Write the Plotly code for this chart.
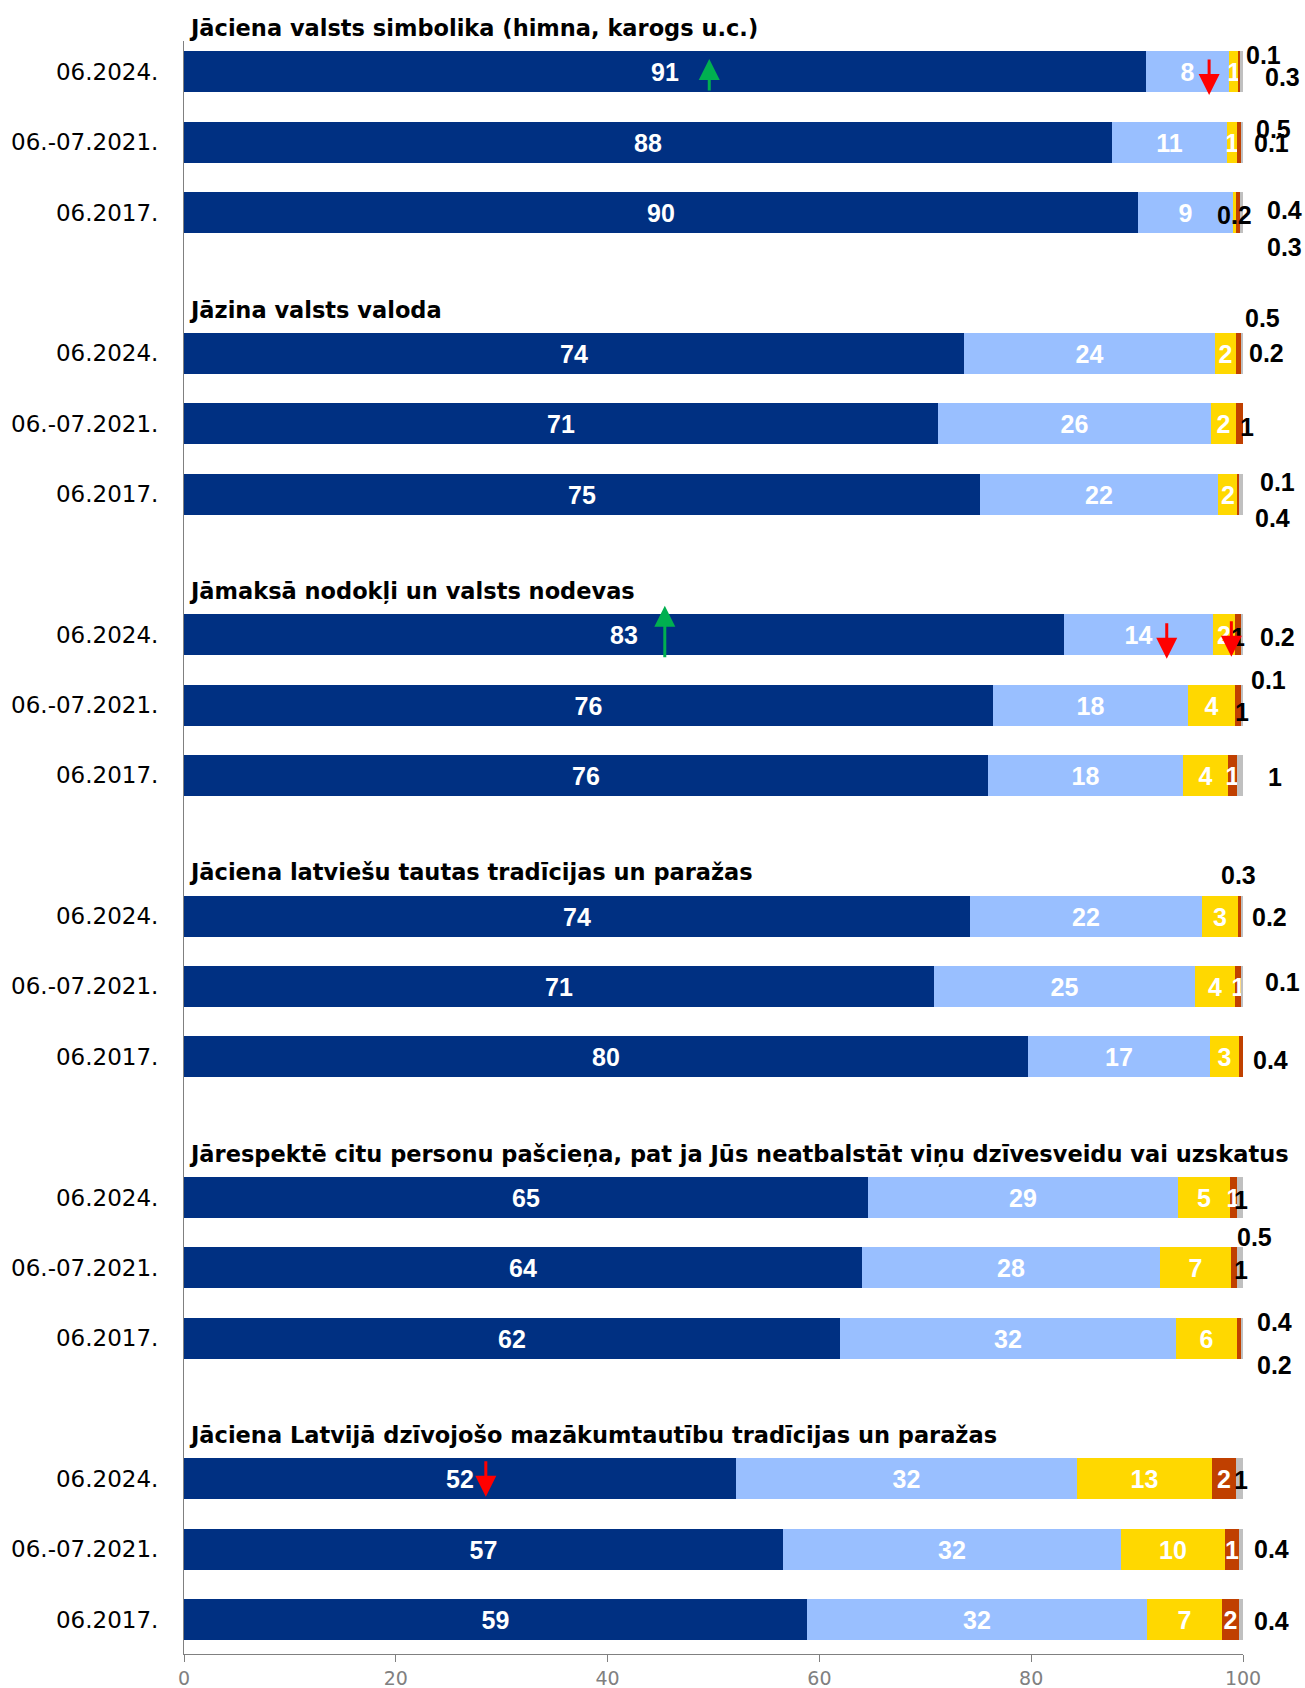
import plotly.graph_objects as go

# ---------------- data ----------------
periods = ["06.2024.", "06.-07.2021.", "06.2017."]
questions = [
    "Jāciena valsts simbolika (himna, karogs u.c.)",
    "Jāzina valsts valoda",
    "Jāmaksā nodokļi un valsts nodevas",
    "Jāciena latviešu tautas tradīcijas un paražas",
    "Jārespektē citu personu pašcieņa, pat ja Jūs neatbalstāt viņu dzīvesveidu vai uzskatus",
    "Jāciena Latvijā dzīvojošo mazākumtautību tradīcijas un paražas",
]
# one row per question, one value per period (06.2024., 06.-07.2021., 06.2017.)
dark_blue = [[90.8, 87.6, 90.1], [73.7, 71.2, 75.2], [83.1, 76.4, 75.9],
             [74.2, 70.8, 79.7], [64.6, 64.0, 61.9], [52.1, 56.6, 58.8]]
light_blue = [[7.9, 10.9, 9.0], [23.7, 25.8, 22.4], [14.1, 18.4, 18.4],
              [21.9, 24.7, 17.2], [29.3, 28.2, 31.8], [32.2, 31.9, 32.1]]
yellow = [[0.9, 0.9, 0.2], [1.9, 2.3, 1.9], [2.0, 4.4, 4.3],
          [3.4, 3.7, 2.7], [4.9, 6.7, 5.7], [12.8, 9.8, 7.1]]
orange = [[0.1, 0.5, 0.4], [0.5, 0.7, 0.1], [0.6, 0.7, 0.8],
          [0.3, 0.7, 0.4], [0.6, 0.5, 0.4], [2.2, 1.3, 1.6]]
gray = [[0.3, 0.1, 0.3], [0.2, 0.0, 0.4], [0.2, 0.1, 0.6],
        [0.2, 0.1, 0.0], [0.6, 0.6, 0.2], [0.7, 0.4, 0.4]]
x_ticks = [0, 20, 40, 60, 80, 100]

# significance arrows: (question, period, x value, direction)
change_arrows = [(0, 0, 49.6, "up"), (0, 0, 96.8, "down"),
                 (2, 0, 45.4, "up"), (2, 0, 92.8, "down"), (2, 0, 98.9, "down"),
                 (5, 0, 28.5, "down")]

# ---------------- styling / placement ----------------
series = [dark_blue, light_blue, yellow, orange, gray]
colors = ["#003082", "#99BFFF", "#FFD800", "#C04000", "#C0C0C0"]
SLOT = 4          # 3 bars + one empty slot per question
PX_PER_SLOT = 70.34
NUM_FONT = "Liberation Sans, Arial, sans-serif"
TXT_FONT = "DejaVu Sans, sans-serif"

# labels drawn outside (black): (question, period, series, dx px, dy px) from segment end / bar centre
outside_labels = [
    (0, 0, 3, 23.7, -17), (0, 0, 4, 39.5, 5),
    (0, 1, 3, 31.6, -13), (0, 1, 4, 28.5, 1),
    (0, 2, 2, -1.1, 2), (0, 2, 3, 44.7, -3), (0, 2, 4, 41.5, 34),
    (1, 0, 3, 21.6, -35), (1, 0, 4, 23.5, 0),
    (1, 1, 3, 3.5, 3),
    (1, 2, 3, 38.7, -12), (1, 2, 4, 29.5, 24),
    (2, 0, 3, -2.4, 2), (2, 0, 4, 34.5, 2),
    (2, 1, 4, 25.5, -25), (2, 1, 3, -0.4, 7),
    (2, 2, 4, 31.5, 2),
    (3, 0, 3, -2.4, -41), (3, 0, 4, 26.5, 1),
    (3, 1, 4, 39.5, -4),
    (3, 2, 3, 27.5, 3),
    (4, 0, 4, -2.5, 3),
    (4, 1, 3, 17.8, -31), (4, 1, 4, -2.5, 2),
    (4, 2, 3, 33.6, -16), (4, 2, 4, 31.5, 27),
    (5, 0, 4, -2.5, 1),
    (5, 1, 4, 28.5, 0),
    (5, 2, 4, 28.5, 1),
]
# arrow geometry (head offset from bar centre, length) in px, same order as change_arrows
arrow_geom = [(-13, 33), (23, 37), (-29, 53), (24, 37), (22, 37), (18, 37)]


def fmt(v):
    if v < 0.55:
        return f"{v:.1f}"
    return str(int(v + 0.5))


outside_set = {(q, p, s) for q, p, s, _, _ in outside_labels}
n_q, n_p = len(questions), len(periods)
y_pos = [q * SLOT + p for q in range(n_q) for p in range(n_p)]

fig = go.Figure()
for s, data in enumerate(series):
    xs, texts = [], []
    for q in range(n_q):
        for p in range(n_p):
            v = data[q][p]
            xs.append(v)
            show_inside = v > 0 and s <= 3 and (q, p, s) not in outside_set
            texts.append(f"<b>{fmt(v)}</b>" if show_inside else "")
    fig.add_trace(go.Bar(
        x=xs, y=y_pos, orientation="h", width=0.583,
        marker=dict(color=colors[s], line=dict(width=0)),
        text=texts, textposition="inside", insidetextanchor="middle",
        constraintext="none", textangle=0,
        textfont=dict(family=NUM_FONT, size=25, color="white"),
        hoverinfo="skip", showlegend=False,
    ))

annotations = []
# question titles (anchored on the first bar of each block, shifted above it)
for q, title in enumerate(questions):
    annotations.append(dict(
        x=0, y=q * SLOT, xref="x", yref="y", xanchor="left", yanchor="middle",
        xshift=3, yshift=0.62 * PX_PER_SLOT, text=f"<b>{title}</b>", showarrow=False,
        font=dict(family=TXT_FONT, size=22.5, color="black")))

# outside labels
for q, p, s, dx, dy in outside_labels:
    end = sum(series[k][q][p] for k in range(s + 1))
    annotations.append(dict(
        x=end, y=q * SLOT + p, xref="x", yref="y", xanchor="center", yanchor="middle",
        xshift=dx, yshift=-dy, text=f"<b>{fmt(series[s][q][p])}</b>", showarrow=False,
        font=dict(family=NUM_FONT, size=25, color="black")))

# change arrows
for (q, p, xv, direction), (head_dy, length) in zip(change_arrows, arrow_geom):
    up = direction == "up"
    annotations.append(dict(
        x=xv, y=q * SLOT + p, xref="x", yref="y", yshift=-head_dy, text="",
        showarrow=True, arrowhead=2, arrowsize=1.4, arrowwidth=3,
        arrowcolor="#00B050" if up else "#FF0000",
        ax=0, ay=length if up else -length, standoff=0, startstandoff=0))

fig.update_layout(
    width=1305, height=1688,
    margin=dict(l=184, r=62, t=41, b=34, autoexpand=False),
    paper_bgcolor="white", plot_bgcolor="white",
    barmode="stack", bargap=0,
    annotations=annotations,
    showlegend=False,
)
fig.update_xaxes(
    range=[0, 100], tickvals=x_ticks, ticks="outside", ticklen=7, tickcolor="#808080",
    showline=True, linecolor="#808080", linewidth=1, showgrid=False, zeroline=False,
    tickfont=dict(family=TXT_FONT, size=19, color="#808080"), ticklabelstandoff=0,
    automargin=False,
)
fig.update_yaxes(
    range=[22.49, -0.44], tickvals=y_pos, ticktext=[periods[p] for q in range(n_q) for p in range(n_p)],
    showline=True, linecolor="#808080", linewidth=1, showgrid=False, zeroline=False,
    ticks="", ticklabelstandoff=20, automargin=False,
    tickfont=dict(family=TXT_FONT, size=23, color="black"),
)

fig.write_html(
    "out.html",
    config={"displayModeBar": False},
    post_script="document.body.style.margin='0';document.body.style.overflow='hidden';",
)
